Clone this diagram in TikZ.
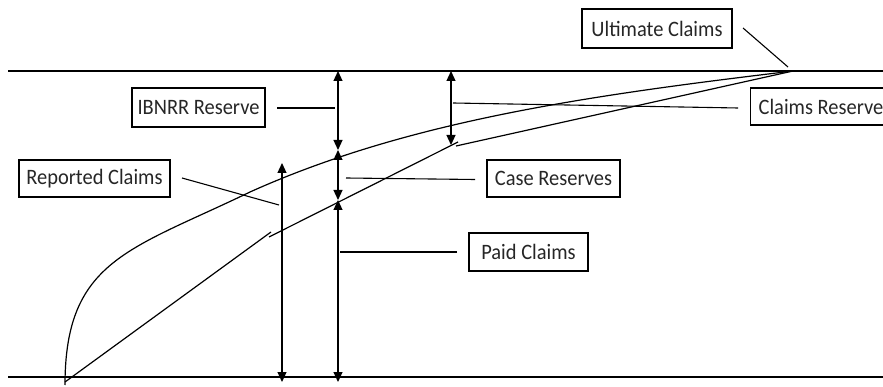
\documentclass[tikz,border=0pt]{standalone}
\usepackage{fontspec}
\setmainfont{Carlito}[FakeStretch=0.93]
\usetikzlibrary{arrows.meta}
\tikzset{
  ln/.style={line width=1.2pt, draw=black},
  lbl/.style={draw=black, line width=1.2pt, inner sep=0pt, font=\fontsize{22}{24}\selectfont, text=black!85},
  dbl/.style={ln, {Triangle[width=9pt,length=10pt]}-{Triangle[width=9pt,length=10pt]}},
  leader/.style={line width=1.1pt, draw=black}
}
\begin{document}
\begin{tikzpicture}[x=1pt,y=-1pt]
\useasboundingbox (0,0) rectangle (883,387);
\clip (0,0) rectangle (883,387);
% baselines
\coordinate (tl) at (8,71);
\coordinate (tr) at (883,71);
\coordinate (bl) at (8,377);
\coordinate (br) at (883,377);
\draw[ln] (tl) -- (tr);
\draw[ln] (bl) -- (br);
% ultimate point
\coordinate (ult) at (793,71);
% reported claims curve
\coordinate (r0) at (65,385);
\coordinate (rm) at (250,192);
\draw[ln] (r0) .. controls (65,260) and (130,250) .. (rm)
          .. controls (410,120) and (593,95) .. (ult);
% paid claims line in three pieces
\coordinate (p0) at (65,382);
\coordinate (p1) at (271,232);
\coordinate (p2) at (269,237);
\coordinate (p3) at (458,142);
\coordinate (p4) at (456,146);
\draw[ln] (p0) -- (p1);
\draw[ln] (p2) -- (p3);
\draw[ln] (p4) -- (ult);
% arrows
\coordinate (a1) at (338,71);
\coordinate (a2) at (338,150);
\coordinate (a3) at (338,200);
\coordinate (a4) at (338,382);
\draw[dbl] (a1) -- (a2);
\draw[dbl] (a2) -- (a3);
\draw[dbl] (a3) -- (a4);
\coordinate (b1) at (282,163);
\coordinate (b2) at (282,382);
\draw[dbl] (b1) -- (b2);
\coordinate (c1) at (451,71);
\coordinate (c2) at (451,145);
\draw[dbl] (c1) -- (c2);
% labels
\node[lbl, minimum width=150pt, minimum height=39pt] (uc) at (657,28.5) {Ultimate Claims};
\node[lbl, anchor=west, minimum height=37pt, inner xsep=8pt] (cr) at (750,106.5) {Claims Reserve};
\node[lbl, minimum width=133pt, minimum height=39pt] (ib) at (198.5,107.5) {IBNRR Reserve};
\node[lbl, minimum width=151pt, minimum height=37pt] (rc) at (94.5,178.5) {Reported Claims};
\node[lbl, minimum width=133pt, minimum height=37pt] (cs) at (553.5,178.5) {Case Reserves};
\node[lbl, minimum width=119pt, minimum height=38pt] (pc) at (528.5,252) {Paid Claims};
% leaders
\coordinate (uc1) at (743,28);
\coordinate (uc2) at (788,67);
\draw[leader] (uc1) -- (uc2);
\coordinate (cr1) at (738,108);
\coordinate (cr2) at (453,103);
\draw[leader] (cr1) -- (cr2);
\coordinate (ib1) at (277,108);
\coordinate (ib2) at (335,108);
\draw[leader] (ib1) -- (ib2);
\coordinate (rc1) at (182,178);
\coordinate (rc2) at (279,205);
\draw[leader] (rc1) -- (rc2);
\coordinate (cs1) at (475,179.5);
\coordinate (cs2) at (346,178);
\draw[leader] (cs1) -- (cs2);
\coordinate (pc1) at (457,252);
\coordinate (pc2) at (340,252);
\draw[leader] (pc1) -- (pc2);
\end{tikzpicture}
\end{document}
